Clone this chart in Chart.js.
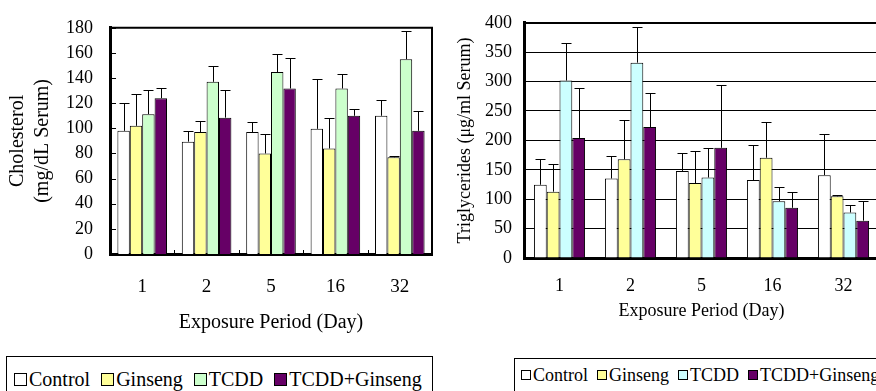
<!DOCTYPE html>
<html><head><meta charset="utf-8">
<script src="https://cdn.jsdelivr.net/npm/chart.js@4/dist/chart.umd.min.js"></script>
<style>
html,body{margin:0;padding:0;background:#fff;overflow:hidden;width:876px;height:391px;position:relative;}
#c1{position:absolute;left:0;top:0;}
#c2{position:absolute;left:440px;top:0;}
.legend{position:absolute;border:1px solid #000;background:#fff;display:flex;align-items:center;white-space:nowrap;font-family:'Liberation Serif',serif;color:#000;box-sizing:border-box;}
.legend .sw{display:inline-block;border:1px solid #000;box-sizing:border-box;}
#lg1{left:6px;top:356px;width:427px;height:42px;padding-top:4px;padding-left:7px;font-size:20px;}
#lg1 .sw{width:13px;height:13px;margin-right:2px;}
#lg1 .it{margin-right:11px;display:flex;align-items:center;}
#lg2{left:514px;top:358px;width:420px;height:40px;padding-bottom:6px;padding-left:6px;font-size:18px;}
#lg2 .sw{width:10px;height:10px;margin-right:2px;}
#lg2 .it{margin-right:9px;display:flex;align-items:center;}
</style></head><body>
<canvas id="c1" width="440" height="345"></canvas>
<canvas id="c2" width="450" height="345"></canvas>
<div id="lg1" class="legend"></div>
<div id="lg2" class="legend"></div>
<script>
// ---- data ----
const days = ['1','2','5','16','32'];
const seriesNames = ['Control','Ginseng','TCDD','TCDD+Ginseng'];

const cholControl   = [98, 89.4, 97, 99.6, 110];
const cholGinseng   = [102, 97, 80, 84, 77];
const cholTCDD      = [111.3, 137, 144.8, 131.7, 155];
const cholTCDDGin   = [124, 108.5, 131.7, 110, 98];
const cholControlSD = [22, 8.6, 7.7, 39.8, 12.3];
const cholGinsengSD = [25.7, 8.9, 15.7, 24.2, 1];
const cholTCDDSD    = [18.9, 12.6, 14, 11.3, 22.7];
const cholTCDDGinSD = [8, 22, 24.3, 5, 16];

const triControl    = [124.6, 135.2, 148.1, 132.5, 140.9];
const triGinseng    = [112.8, 167.8, 127.4, 170.5, 104.9];
const triTCDD       = [301.8, 332.2, 136.9, 96.5, 77.4];
const triTCDDGin    = [204.2, 222.7, 187.4, 85.4, 63.5];
const triControlSD  = [43.2, 38.2, 30.4, 59.9, 70.7];
const triGinsengSD  = [46.6, 66.2, 53.9, 60.1, 1.7];
const triTCDDSD     = [63, 60.6, 50, 24.7, 13.5];
const triTCDDGinSD  = [84.2, 57.9, 106.6, 27.4, 34.1];

const cholColors = ['#FFFFFF','#FFFF99','#CCFFCC','#660066'];
const triColors  = ['#FFFFFF','#FFFF99','#CCFFFF','#660066'];

const F = "'Liberation Serif', 'Times New Roman', serif";

// ---- plugins ----
const errorBars = {
  id:'errorBars',
  afterDatasetsDraw(chart){
    const ctx = chart.ctx, ys = chart.scales.y;
    ctx.save(); ctx.strokeStyle='#000'; ctx.lineWidth=1;
    chart.data.datasets.forEach((ds,i)=>{
      const meta = chart.getDatasetMeta(i);
      meta.data.forEach((bar,j)=>{
        const v = ds.data[j], e = ds.errors[j];
        const x = Math.round(bar.x)+0.5;
        const y1 = Math.round(ys.getPixelForValue(v+e))+0.5;
        ctx.beginPath();
        ctx.moveTo(x,bar.y); ctx.lineTo(x,y1);
        ctx.moveTo(x-5,y1); ctx.lineTo(x+5,y1);
        ctx.stroke();
      });
    });
    ctx.restore();
  }
};
const frameBox = {
  id:'frameBox',
  afterDatasetsDraw(chart){
    const {ctx, chartArea:a, scales:{x,y}} = chart;
    ctx.save(); ctx.strokeStyle='#000';
    ctx.lineWidth=2; ctx.beginPath();
    ctx.moveTo(a.left,a.top); ctx.lineTo(a.right,a.top); ctx.lineTo(a.right,a.bottom+1);
    ctx.stroke();
    ctx.lineWidth=1; ctx.beginPath();
    y.ticks.forEach(t=>{const py=Math.round(y.getPixelForValue(t.value))+0.5; ctx.moveTo(a.left,py); ctx.lineTo(a.left+6,py);});
    const n = x.ticks.length;
    for(let k=1;k<n;k++){
      const px = Math.round((x.getPixelForTick(k-1)+x.getPixelForTick(k))/2)+0.5;
      ctx.moveTo(px,a.bottom); ctx.lineTo(px,a.bottom-4);
    }
    ctx.stroke(); ctx.restore();
  }
};

function buildSets(means, sds, colors){
  return seriesNames.map((n,i)=>({label:n, data:means[i], errors:sds[i], backgroundColor:colors[i], borderColor:'#000', borderWidth:1, borderSkipped:'start'}));
}

new Chart(document.getElementById('c1'), {
  type:'bar',
  data:{labels:days, datasets:buildSets([cholControl,cholGinseng,cholTCDD,cholTCDDGin],[cholControlSD,cholGinsengSD,cholTCDDSD,cholTCDDGinSD],cholColors)},
  options:{
    responsive:false, animation:false, devicePixelRatio:1,
    layout:{padding:{left:0,top:18,right:8,bottom:0}},
    plugins:{legend:{display:false}, tooltip:{enabled:false}},
    datasets:{bar:{categoryPercentage:0.77, barPercentage:1}},
    scales:{
      x:{grid:{display:false, drawTicks:false}, border:{color:'#000', width:3},
         ticks:{color:'#000', font:{family:F,size:19}, padding:22},
         title:{display:true, text:'Exposure Period (Day)', color:'#000', font:{family:F,size:20}, padding:{top:0,bottom:10}},
         afterFit(s){s.height=91;}},
      y:{min:0, max:180, grid:{display:false, drawTicks:false}, border:{color:'#000', width:3},
         ticks:{stepSize:20, color:'#000', font:{family:F,size:18}, padding:17},
         title:{display:true, text:['Cholesterol','(mg/dL Serum)'], color:'#000', font:{family:F,size:20,lineHeight:1.25}, padding:{top:5,bottom:0}},
         afterFit(s){s.width=110;}}
    }
  },
  plugins:[frameBox, errorBars]
});

new Chart(document.getElementById('c2'), {
  type:'bar',
  data:{labels:days, datasets:buildSets([triControl,triGinseng,triTCDD,triTCDDGin],[triControlSD,triGinsengSD,triTCDDSD,triTCDDGinSD],triColors)},
  options:{
    responsive:false, animation:false, devicePixelRatio:1,
    layout:{padding:{left:0,top:20,right:11,bottom:0}},
    plugins:{legend:{display:false}, tooltip:{enabled:false}},
    datasets:{bar:{categoryPercentage:0.72, barPercentage:1}},
    scales:{
      x:{grid:{display:false, drawTicks:false}, border:{color:'#000', width:3},
         ticks:{color:'#000', font:{family:F,size:18}, padding:17},
         title:{display:true, text:'Exposure Period (Day)', color:'#000', font:{family:F,size:18}, padding:{top:0,bottom:23}},
         afterFit(s){s.height=87;}},
      y:{min:0, max:400, grid:{color:'#000', lineWidth:c=>(c.tick && c.tick.value===400)?2:1, drawTicks:false}, border:{color:'#000', width:3},
         ticks:{stepSize:50, color:'#000', font:{family:F,size:18}, padding:12},
         title:{display:true, text:'Triglycerides (μg/ml Serum)', color:'#000', font:{family:F,size:18}, padding:{top:14,bottom:0}},
         afterFit(s){s.width=84;}}
    }
  },
  plugins:[errorBars]
});

function buildLegend(id, colors){
  const el = document.getElementById(id);
  seriesNames.forEach((n,i)=>{
    const it = document.createElement('span'); it.className='it';
    const sw = document.createElement('span'); sw.className='sw'; sw.style.background=colors[i];
    const tx = document.createElement('span'); tx.textContent=n;
    it.appendChild(sw); it.appendChild(tx); el.appendChild(it);
  });
}
buildLegend('lg1', cholColors);
buildLegend('lg2', triColors);
</script>
</body></html>
